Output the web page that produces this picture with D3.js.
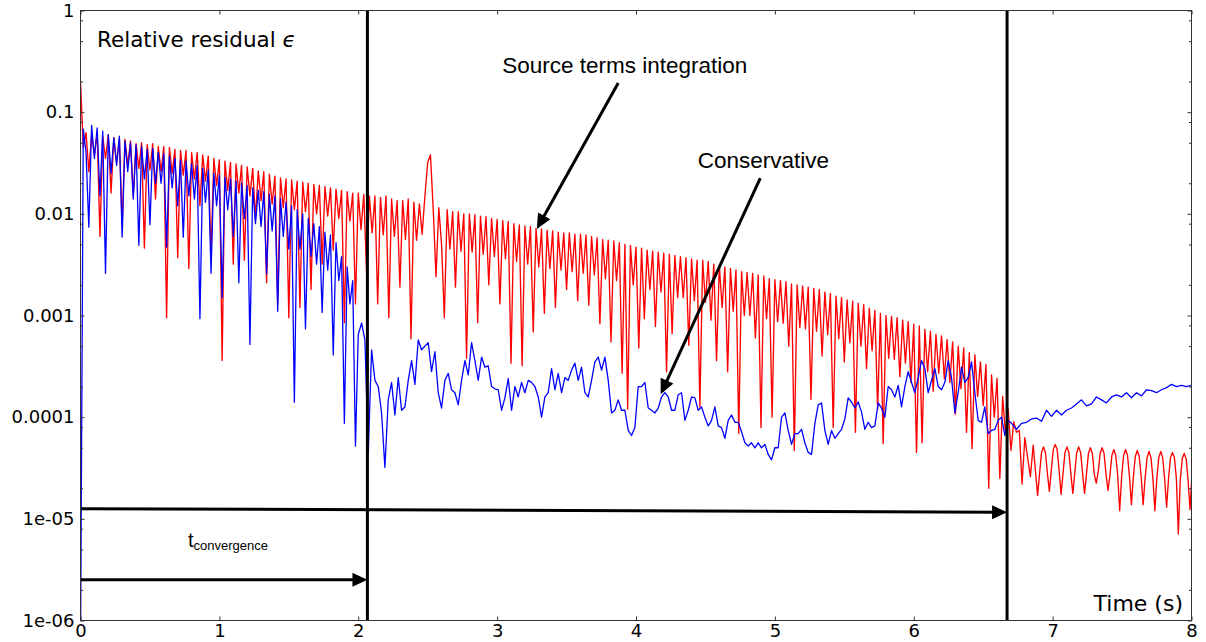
<!DOCTYPE html>
<html><head><meta charset="utf-8">
<script src="https://cdn.jsdelivr.net/npm/d3@7"></script>
<style>body{margin:0;background:#fff}svg{display:block}</style>
</head><body>
<svg id="chart" width="1206" height="642"></svg>
<script>
// ---------- DATA ----------
const xTicks = [0,1,2,3,4,5,6,7,8];
const yTicks = [1,0.1,0.01,0.001,0.0001,1e-5,1e-6];
const yTickLabels = ["1","0.1","0.01","0.001","0.0001","1e-05","1e-06"];
const yMinorTicks = [2e-6,5e-6,8e-6,2e-5,5e-5,8e-5,2e-4,5e-4,8e-4,2e-3,5e-3,8e-3,2e-2,5e-2,8e-2,0.2,0.5,0.8];

// Source terms integration (red): segment start times / sample steps (s)
const redStart = [0, 6.892];
const redStep = [0.02, 0.01407];
const redA = [
0.2,4.5e-2,6.3e-2,2.6e-2,
6.0e-2,3.8e-2,6.3e-2,6.0e-3,
5.8e-2,3.5e-2,6.0e-2,1.6e-2,
5.6e-2,3.2e-2,5.5e-2,7.4e-3,
5.4e-2,3.0e-2,5.2e-2,1.5e-2,
4.9e-2,2.8e-2,5.0e-2,4.6e-3,
4.8e-2,2.7e-2,4.9e-2,1.4e-2,
4.6e-2,2.6e-2,4.6e-2,9.5e-4,
4.5e-2,2.5e-2,4.3e-2,3.7e-3,
4.2e-2,2.4e-2,4.2e-2,2.9e-3,
4.0e-2,2.2e-2,4.0e-2,1.2e-2,
3.8e-2,2.1e-2,3.7e-2,3.9e-3,
3.5e-2,1.9e-2,3.4e-2,3.6e-4,
3.3e-2,1.7e-2,3.2e-2,3.2e-3,
3.1e-2,1.6e-2,3.0e-2,3.5e-3,
2.9e-2,1.5e-2,2.8e-2,9.0e-3,
2.65e-2,1.35e-2,2.6e-2,2.1e-3,
2.45e-2,1.25e-2,2.35e-2,1.3e-3,
2.25e-2,1.15e-2,2.2e-2,9.5e-4,
2.15e-2,1.1e-2,2.1e-2,1.2e-3,
2.05e-2,1.05e-2,2.0e-2,1.8e-3,
1.95e-2,1.0e-2,1.9e-2,3.2e-3,
1.85e-2,9.5e-3,1.8e-2,4.4e-3,
1.75e-2,9.0e-3,1.7e-2,8.5e-4,
1.65e-2,8.5e-3,1.6e-2,1.3e-3,
1.6e-2,7.0e-3,1.55e-2,2.6e-3,
1.5e-2,6.5e-3,1.5e-2,1.3e-3,
1.45e-2,6.2e-3,1.5e-2,9.5e-4,
1.4e-2,6.0e-3,1.35e-2,1.9e-3,
1.35e-2,5.6e-3,1.4e-2,5.9e-4,
1.3e-2,5.5e-3,1.25e-2,6.3e-3,
1.5e-2,3.2e-2,3.8e-2,1.1e-2,
2.4e-3,1.15e-2,5.0e-3,9.5e-4,
1.1e-2,4.5e-3,1.05e-2,1.9e-3,
1.05e-2,4.3e-3,1.0e-2,3.8e-4,
1.0e-2,4.2e-3,9.8e-3,8.5e-4,
9.5e-3,4.0e-3,9.4e-3,2.0e-3,
9.0e-3,3.8e-3,8.8e-3,1.3e-3,
8.6e-3,3.6e-3,8.4e-3,3.4e-4,
8.0e-3,3.4e-3,7.8e-3,3.2e-4,
7.6e-3,3.2e-3,7.5e-3,6.9e-4,
7.2e-3,3.0e-3,7.1e-3,1.05e-3,
6.9e-3,2.9e-3,6.8e-3,1.2e-3,
6.6e-3,2.8e-3,6.5e-3,1.8e-3,
6.5e-3,2.7e-3,6.3e-3,1.4e-3,
6.3e-3,2.6e-3,6.2e-3,1.26e-3,
6.0e-3,2.5e-3,5.8e-3,8.3e-4,
5.6e-3,2.3e-3,5.5e-3,5.5e-4,
5.4e-3,2.2e-3,5.2e-3,2.7e-4,
5.0e-3,1.2e-4,4.9e-3,2.0e-3,
4.7e-3,4.8e-4,4.6e-3,9.3e-4,
4.4e-3,1.8e-3,4.3e-3,7.8e-4,
4.2e-3,1.7e-3,4.1e-3,2.8e-4,
4.0e-3,6.6e-4,3.9e-3,1.5e-3,
3.8e-3,1.5e-3,3.7e-3,5.1e-4,
3.6e-3,1.4e-3,3.5e-3,1.26e-4,
3.5e-3,1.35e-3,3.4e-3,9.0e-4,
3.2e-3,3.6e-4,3.1e-3,1.2e-3,
3.0e-3,2.8e-4,2.9e-3,1.1e-3,
2.8e-3,6.9e-5,2.7e-3,1.0e-3,
2.65e-3,1.0e-3,2.6e-3,6.0e-4,
2.5e-3,7.9e-5,2.45e-3,9.3e-4,
2.3e-3,1.0e-4,2.25e-3,8.7e-4,
2.2e-3,8.4e-4,2.15e-3,5.0e-4,
2.05e-3,4.7e-5,2.0e-3,7.6e-4,
1.95e-3,7.4e-4,1.9e-3,1.5e-4,
1.85e-3,7.0e-4,1.8e-3,4.0e-4,
1.7e-3,6.5e-4,1.65e-3,7.9e-5,
1.55e-3,5.9e-4,1.5e-3,3.5e-4,
1.42e-3,5.4e-4,1.38e-3,7.1e-5,
1.32e-3,5.0e-4,1.28e-3,3.0e-4,
1.18e-3,4.5e-4,1.12e-3,1.2e-4,
1.05e-3,5.5e-5,1.0e-3,3.8e-4,
9.8e-4,3.7e-4,9.5e-4,2.5e-4,
9.0e-4,3.4e-4,8.7e-4,2.2e-4,
8.2e-4,4.5e-5,7.9e-4,5.6e-5,
7.3e-4,2.8e-4,7.0e-4,1.8e-4,
6.5e-4,2.7e-4,6.3e-4,2.4e-4,
5.8e-4,2.2e-4,5.5e-4,1.07e-4,
5.0e-4,1.9e-4,4.8e-4,7.1e-5,
4.3e-4,4.9e-5,4.1e-4,1.6e-4,
3.5e-4,1.3e-4,3.3e-4,2.0e-5,
2.6e-4,1.0e-4,2.4e-4,2.5e-5,
1.6e-4,7.0e-5,1.2e-4,4.7e-5,
9.0e-5,7.1e-5,7.4e-5,2.2e-5,
6.3e-5,4.0e-5,2.6e-5,5.3e-5
];
const redB = [
1.7e-5,2.8e-5,4.5e-5,5.1e-5,4.5e-5,2.8e-5,
1.86e-5,3.0e-5,4.8e-5,5.4e-5,4.8e-5,3.0e-5,
1.74e-5,2.8e-5,4.5e-5,5.1e-5,4.5e-5,2.8e-5,
1.78e-5,2.8e-5,4.5e-5,5.1e-5,4.5e-5,2.8e-5,
1.78e-5,2.75e-5,4.4e-5,5.0e-5,4.4e-5,2.75e-5,
2.24e-5,2.9e-5,4.4e-5,5.0e-5,4.4e-5,2.75e-5,
1.9e-5,2.65e-5,4.2e-5,4.8e-5,4.2e-5,2.65e-5,
1.2e-5,2.6e-5,4.2e-5,4.8e-5,4.2e-5,2.6e-5,
1.38e-5,2.6e-5,4.1e-5,4.7e-5,4.1e-5,2.6e-5,
1.38e-5,2.5e-5,4.0e-5,4.6e-5,4.0e-5,2.5e-5,
1.2e-5,2.5e-5,4.0e-5,4.6e-5,4.0e-5,2.5e-5,
1.3e-5,2.5e-5,4.0e-5,4.5e-5,4.0e-5,2.5e-5,
7.1e-6,2.4e-5,3.9e-5,4.4e-5,3.9e-5,2.4e-5,
1.23e-5,2.8e-5
];

// Conservative (blue)
const blueStart = [0, 2.0, 6.74];
const blueStep = [0.02, 0.024, 0.036];
const blueA = [
5e-7,6.8e-2,4.0e-2,7.4e-3,
7.4e-2,3.5e-2,7.0e-2,1.5e-2,
6.5e-2,2.6e-3,6.0e-2,2.5e-2,
5.6e-2,3.0e-2,5.8e-2,5.9e-3,
5.2e-2,2.6e-2,5.0e-2,1.4e-2,
4.8e-2,4.9e-3,4.6e-2,2.2e-2,
4.3e-2,7.8e-3,4.4e-2,2.0e-2,
4.0e-2,2.0e-2,3.9e-2,4.7e-3,
3.7e-2,1.8e-2,3.5e-2,1.2e-2,
3.4e-2,5.9e-3,3.3e-2,1.5e-2,
3.1e-2,1.4e-2,3.0e-2,9.3e-4,
2.8e-2,1.3e-2,2.7e-2,2.6e-3,
2.5e-2,1.2e-2,2.4e-2,1.5e-3,
2.3e-2,1.1e-2,2.2e-2,6.0e-3,
2.1e-2,2.1e-3,2.0e-2,9.0e-3,
1.9e-2,5.2e-4,1.8e-2,8.0e-3,
1.7e-2,7.5e-3,1.65e-2,2.6e-3,
1.55e-2,6.8e-3,1.5e-2,1.1e-3,
1.4e-2,6.0e-3,1.3e-2,4.5e-3,
1.2e-2,1.4e-4,1.1e-2,4.5e-3,
1.0e-2,7.4e-4,9.0e-3,3.8e-3,
8.0e-3,3.2e-3,7.5e-3,1.07e-3,
6.6e-3,2.8e-3,6.2e-3,4.1e-4,
5.2e-3,2.2e-3,3.8e-3,8.7e-5,
3.0e-3,1.3e-3,2.2e-3,5.2e-5
];
const blueB = [
6.5e-4,8.4e-4,5.75e-4,4.4e-5,4.6e-4,2.3e-4,2.0e-4,1.1e-4,3.2e-5,1.48e-4,
2.2e-4,1.05e-4,2.45e-4,1.17e-4,1.26e-4,2.3e-4,3.6e-4,2.1e-4,5.75e-4,4.6e-4,
5.0e-4,5.4e-4,2.8e-4,4.4e-4,1.74e-4,1.23e-4,2.3e-4,2.7e-4,1.86e-4,1.74e-4,
1.32e-4,2.3e-4,3.6e-4,2.6e-4,5.4e-4,3.6e-4,2.3e-4,3.9e-4,3.1e-4,3.2e-4,
2.0e-4,1.9e-4,1.86e-4,1.17e-4,1.55e-4,2.4e-4,1.17e-4,2.0e-4,1.58e-4,2.2e-4,
1.74e-4,2.3e-4,2.2e-4,2.0e-4,1.58e-4,1.0e-4,1.58e-4,1.74e-4,3.0e-4,1.86e-4,
2.7e-4,1.74e-4,2.45e-4,2.3e-4,2.9e-4,3.4e-4,2.3e-4,3.1e-4,1.74e-4,1.58e-4,
2.3e-4,3.5e-4,3.9e-4,2.9e-4,3.9e-4,2.3e-4,1.1e-4,1.17e-4,1.48e-4,1.17e-4,
1.17e-4,7.4e-5,6.6e-5,7.9e-5,2.0e-4,2.0e-4,2.2e-4,1.23e-4,1.17e-4,1.1e-4,
1.23e-4,1.58e-4,1.74e-4,1.58e-4,1.17e-4,1.17e-4,1.66e-4,1.74e-4,9.3e-5,1.17e-4,
1.58e-4,1.55e-4,1.17e-4,1.26e-4,1.0e-4,8.2e-5,9.3e-5,1.26e-4,8.2e-5,7.9e-5,
6.2e-5,9.3e-5,1.05e-4,8.9e-5,8.9e-5,7.2e-5,5.6e-5,5.2e-5,5.6e-5,5.0e-5,
5.6e-5,5.0e-5,5.4e-5,4.3e-5,3.8e-5,5.0e-5,5.0e-5,1.0e-4,1.1e-4,7.4e-5,
5.4e-5,6.9e-5,6.9e-5,7.6e-5,5.6e-5,4.5e-5,4.3e-5,8.7e-5,1.32e-4,1.38e-4,
7.4e-5,5.4e-5,7.4e-5,6.2e-5,6.9e-5,7.6e-5,9.6e-5,1.55e-4,1.41e-4,1.23e-4,
1.41e-4,1.12e-4,7.6e-5,8.9e-5,7.9e-5,8.2e-5,1.38e-4,1.23e-4,1.0e-4,2.0e-4,
1.86e-4,1.58e-4,2.05e-4,1.26e-4,2.0e-4,2.8e-4,2.2e-4,1.74e-4,2.45e-4,3.6e-4,
3.0e-4,1.74e-4,2.3e-4,3.0e-4,2.0e-4,1.86e-4,2.2e-4,3.6e-4,2.45e-4,1.1e-4,
1.74e-4,3.1e-4,2.2e-4,2.45e-4,3.5e-4,1.74e-4,9.3e-5,8.9e-5,1.26e-4,6.9e-5,
7.4e-5,7.6e-5,9.3e-5,1.0e-4,6.6e-5,9.3e-5,8.7e-5
];
const blueC = [
7.6e-5,8.7e-5,8.9e-5,9.6e-5,9.8e-5,9.1e-5,1.17e-4,1.02e-4,1.17e-4,1.05e-4,
1.17e-4,1.23e-4,1.35e-4,1.48e-4,1.29e-4,1.35e-4,1.58e-4,1.48e-4,1.38e-4,1.58e-4,
1.66e-4,1.58e-4,1.74e-4,1.55e-4,1.74e-4,1.62e-4,1.86e-4,1.82e-4,1.74e-4,1.86e-4,
1.95e-4,2.1e-4,2.0e-4,2.05e-4,2.0e-4,2.05e-4
];

// Annotations (data space)
const convergenceTimes = [2.066, 6.672];
const arrowFrom = [[0,1.26e-5],[0,2.52e-6],[3.872,0.194],[4.895,0.0225]];
const arrowTo   = [[6.672,1.16e-5],[2.066,2.52e-6],[3.286,7.1e-3],[4.178,1.68e-4]];
const noteTexts = ["Source terms integration","Conservative"];
const notePos = [[3.919,0.2435],[4.917,0.02825]];
const tconvPos = [0.774, 5.24e-6];

// ---------- CHART ----------
const svg = d3.select("#chart");
const L = 80.5, R = 1191.5, T = 10.5, B = 620.5;
const x = d3.scaleLinear().domain([0, 8]).range([L, R]);
const y = d3.scaleLog().domain([1e-6, 1]).range([B, T]);

function seg(t0, dt, vals){ return vals.map((v,i)=>({t:t0+i*dt, v:v})); }
const redPts = seg(redStart[0], redStep[0], redA).concat(seg(redStart[1], redStep[1], redB));
const bluePts = seg(blueStart[0], blueStep[0], blueA)
  .concat(seg(blueStart[1], blueStep[1], blueB))
  .concat(seg(blueStart[2], blueStep[2], blueC));

svg.append("defs").append("clipPath").attr("id","clip")
  .append("rect").attr("x",L).attr("y",T).attr("width",R-L).attr("height",B-T);

const line = d3.line().x(d=>x(d.t)).y(d=>y(Math.max(d.v,1e-8)));
const plot = svg.append("g").attr("clip-path","url(#clip)");
plot.append("path").datum(redPts).attr("d",line)
  .attr("fill","none").attr("stroke","#ff0000").attr("stroke-width",1.35).attr("stroke-linejoin","round");
plot.append("path").datum(bluePts).attr("d",line)
  .attr("fill","none").attr("stroke","#0000ff").attr("stroke-width",1.3).attr("stroke-linejoin","round");

// vertical convergence lines
plot.selectAll("line.conv").data(convergenceTimes).enter().append("line")
  .attr("x1",d=>x(d)).attr("x2",d=>x(d)).attr("y1",T).attr("y2",B)
  .attr("stroke","#000").attr("stroke-width",3);

// arrows
const ag = svg.append("g");
arrowFrom.forEach((f,i)=>{
  const p0=[x(f[0]),y(f[1])], p1=[x(arrowTo[i][0]),y(arrowTo[i][1])];
  const dx=p1[0]-p0[0], dy=p1[1]-p0[1], len=Math.hypot(dx,dy);
  const ux=dx/len, uy=dy/len, nx=-uy, ny=ux;
  const hl=15, hw=7;
  ag.append("line").attr("x1",p0[0]).attr("y1",p0[1])
    .attr("x2",p1[0]-ux*hl*0.7).attr("y2",p1[1]-uy*hl*0.7)
    .attr("stroke","#000").attr("stroke-width",3);
  const pts=[[p1[0],p1[1]],[p1[0]-ux*hl+nx*hw,p1[1]-uy*hl+ny*hw],[p1[0]-ux*hl-nx*hw,p1[1]-uy*hl-ny*hw]];
  ag.append("polygon").attr("points",pts.map(p=>p.join(",")).join(" ")).attr("fill","#000");
});

// axes
const tickFont = "DejaVu Sans";
function styleAxis(g){
  g.select(".domain").remove();
  g.selectAll(".tick line").attr("stroke","#333").attr("stroke-width",1);
  g.selectAll(".tick text").attr("font-family",tickFont).attr("font-size",18).attr("fill","#000");
}
svg.append("g").attr("transform",`translate(0,${B})`)
  .call(d3.axisBottom(x).tickValues(xTicks).tickFormat(d3.format("d")).tickSize(-4).tickPadding(4)).call(styleAxis);
svg.append("g").attr("transform",`translate(0,${T})`)
  .call(d3.axisTop(x).tickValues(xTicks).tickFormat("").tickSize(-4)).call(styleAxis);
svg.append("g").attr("transform",`translate(${L},0)`)
  .call(d3.axisLeft(y).tickValues(yTicks).tickFormat((d,i)=>yTickLabels[i]).tickSize(-4).tickPadding(6)).call(styleAxis);
svg.append("g").attr("transform",`translate(${L},0)`)
  .call(d3.axisLeft(y).tickValues(yMinorTicks).tickFormat("").tickSize(-2.5)).call(styleAxis);
svg.append("g").attr("transform",`translate(${R},0)`)
  .call(d3.axisRight(y).tickValues(yTicks).tickFormat("").tickSize(-4)).call(styleAxis);
svg.append("g").attr("transform",`translate(${R},0)`)
  .call(d3.axisRight(y).tickValues(yMinorTicks).tickFormat("").tickSize(-2.5)).call(styleAxis);
svg.append("rect").attr("x",L).attr("y",T).attr("width",R-L).attr("height",B-T)
  .attr("fill","none").attr("stroke","#333").attr("stroke-width",1);

// texts
const t1 = svg.append("text").attr("x",L+16.5).attr("y",T+36)
  .attr("font-family","DejaVu Sans").attr("font-size",21.5).attr("fill","#000")
  .text("Relative residual ");
t1.append("tspan").attr("font-style","italic").text("ϵ");

svg.append("text").attr("x",R-8.5).attr("y",B-9.5).attr("text-anchor","end")
  .attr("font-family","DejaVu Sans").attr("font-size",22).attr("fill","#000").text("Time (s)");

svg.selectAll("text.note").data(noteTexts).enter().append("text")
  .attr("x",(d,i)=>x(notePos[i][0])).attr("y",(d,i)=>y(notePos[i][1]))
  .attr("text-anchor","middle").attr("font-family","Liberation Sans, Arial, sans-serif")
  .attr("font-size",22.5).attr("fill","#000").text(d=>d);

const tc = svg.append("text").attr("x",x(tconvPos[0])).attr("y",y(tconvPos[1]))
  .attr("font-family","Liberation Sans, Arial, sans-serif").attr("font-size",20).attr("fill","#000").text("t");
tc.append("tspan").attr("font-size",13).attr("dy",3).text("convergence");
</script>
</body></html>
